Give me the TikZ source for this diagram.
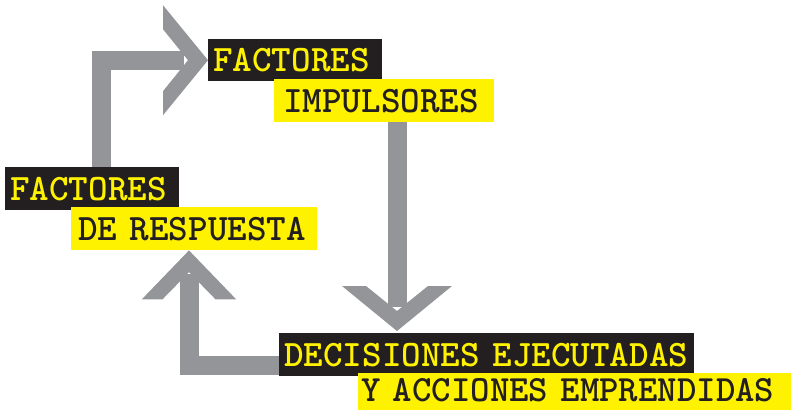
\documentclass[tikz,border=0pt]{standalone}
\usepackage{fontspec}
\usepackage{tikz}
\usetikzlibrary{calc,positioning}

\definecolor{grisflecha}{HTML}{939598}
\definecolor{negrocaja}{HTML}{231F20}
\definecolor{amarillo}{HTML}{FFF200}

% punta de flecha en forma de chevron: punta, giro, escala
\newcommand\punta[3]{%
  \fill[grisflecha,shift={(#1)},rotate=#2,#3]
    (0,0) -- (-45,55) -- (-45,31) -- (-20,0) -- (-45,-31) -- (-45,-55) -- cycle;}

\tikzset{
  caja/.style={anchor=north west,inner ysep=0pt,text height=23pt,text depth=0pt,
    align=left,font=\ttfamily\bfseries\fontsize{37.3}{40}\selectfont},
  cajanegra/.style={caja,fill=negrocaja,text=amarillo,inner xsep=5pt},
  cajaamarilla/.style={caja,fill=amarillo,text=negrocaja},
  flecha/.style={draw=grisflecha,line width=19pt,shorten >=24pt},
}

\begin{document}
\begin{tikzpicture}[x=1pt,y=-1pt]
            \useasboundingbox (0,0) rectangle (791,410);
            \node[cajanegra,text width=164pt,minimum height=42pt] (fimp) at (208,39) {FACTORES};
            \node[cajaamarilla,inner xsep=9pt,text width=202pt,minimum height=43pt] (imp) at (274,79) {IMPULSORES};
            \node[cajanegra,text width=164pt,minimum height=43pt] (fresp) at (5,167) {FACTORES};
            \node[cajaamarilla,inner xsep=7pt,text width=232pt,minimum height=43pt] (resp) at (71,207) {DE RESPUESTA};
            \node[cajanegra,text width=405pt,minimum height=43pt] (dec) at (279,333) {DECISIONES EJECUTADAS};
            \node[cajaamarilla,inner xsep=3pt,text width=427pt,minimum height=37pt,text depth=3pt,
              font=\ttfamily\bfseries\fontsize{37}{40}\selectfont] (acc) at (358,373) {Y ACCIONES EMPRENDIDAS};
            % flechas
            \draw[flecha] ($(fresp.north west)+(96,0)$) |- (fimp.west);
            \punta{fimp.west}{0}{}
            \coordinate (baja) at ($(imp.south west)+(123,0)$);
            \coordinate (pbaja) at ($(baja |- dec.north)+(0,-2)$);
            \draw[flecha] (baja) -- (pbaja);
            \punta{pbaja}{-90}{}
            \coordinate (sube) at ($(dec.south west)+(0,-11)$);
            \coordinate (psube) at ($(resp.south west)+(118,0)$);
            \draw[flecha] (sube) -| (psube);
            \punta{psube}{90}{xscale=1.09,yscale=.86}
        \end{tikzpicture}
\end{document}
